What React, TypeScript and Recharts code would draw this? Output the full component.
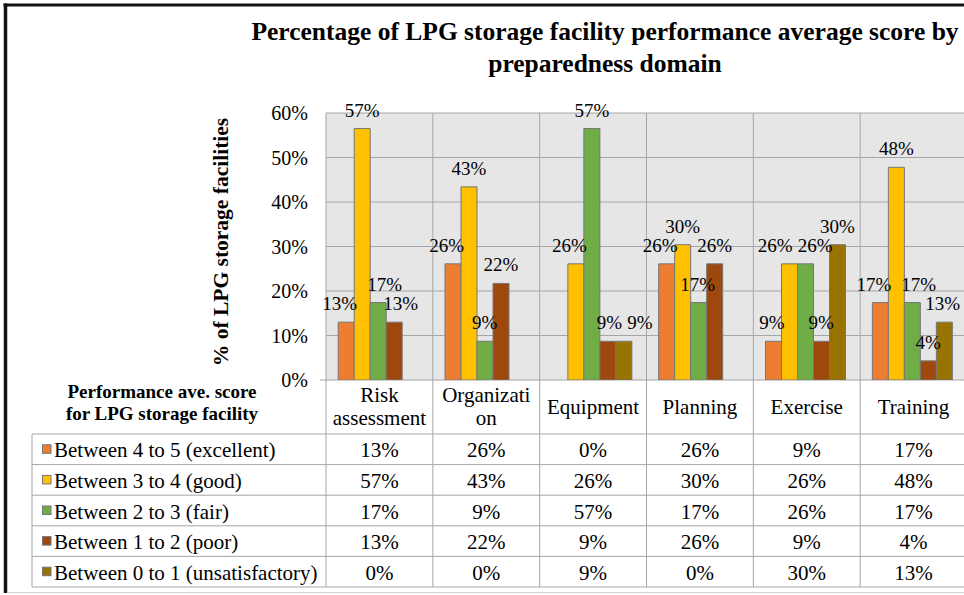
import React from 'react';
import { BarChart, Bar, XAxis, YAxis, CartesianGrid, LabelList } from 'recharts';

const CATEGORIES = ['Risk assessment', 'Organization', 'Equipment', 'Planning', 'Exercise', 'Training'];
const CATEGORY_LINES = [['Risk', 'assessment'], ['Organizati', 'on'], ['Equipment'], ['Planning'], ['Exercise'], ['Training']];
const SERIES_NAMES = [
  'Between 4 to 5 (excellent)',
  'Between 3 to 4 (good)',
  'Between 2 to 3 (fair)',
  'Between 1 to 2 (poor)',
  'Between 0 to 1 (unsatisfactory)',
];
const EXCELLENT = [13.0, 26.1, 0, 26.1, 8.7, 17.4];
const GOOD = [56.5, 43.4, 26.1, 30.4, 26.1, 47.8];
const FAIR = [17.4, 8.7, 56.5, 17.4, 26.1, 17.4];
const POOR = [13.0, 21.7, 8.7, 26.1, 8.7, 4.3];
const UNSATISFACTORY = [0, 0, 8.7, 0, 30.4, 13.0];
const Y_TICKS = [0, 10, 20, 30, 40, 50, 60];

const SERIES_VALUES = [EXCELLENT, GOOD, FAIR, POOR, UNSATISFACTORY];
const COLORS = ['#ED7D31', '#FFC000', '#70AD47', '#9E480E', '#997300'];
const KEYS = ['s0', 's1', 's2', 's3', 's4'];

const data = CATEGORIES.map((name, i) => {
  const row: any = { name };
  KEYS.forEach((k, s) => (row[k] = SERIES_VALUES[s][i]));
  return row;
});

const FONT = '"Liberation Serif", "Times New Roman", Times, serif';
const GRID = '#a6a6a6';
const VIEW_W = 964;
const CHART_W = 1000;
const CHART_H = 595;
const M_LEFT = 266;
const Y_W = 60;
const M_RIGHT = 33;
const PLOT_TOP = 113;
const PLOT_BOTTOM = 380;
const PLOT_LEFT = M_LEFT + Y_W;
const PLOT_RIGHT = CHART_W - M_RIGHT;
const BAND = (PLOT_RIGHT - PLOT_LEFT) / CATEGORIES.length;
const ROW_TOP = 434;
const ROW_H = 30.6;
const TABLE_BOTTOM = ROW_TOP + ROW_H * SERIES_NAMES.length;
const TABLE_LEFT = 32;
const Y_MAX = 60;

const LABEL_FS = 19;
const LABEL_OFFSET = 12;
const CAP = 13;
const BAR_TOLERANCE = 3;
const LABEL_GAP = 5;

const fmt = (v: number) => `${Math.round(v)}%`;
const textW = (t: string) =>
  Array.from(t).reduce((a, c) => a + (c === '%' ? 0.833 : 0.5), 0) * LABEL_FS;
const yOf = (v: number) => PLOT_BOTTOM - (v / Y_MAX) * (PLOT_BOTTOM - PLOT_TOP);

// Nudges data labels sideways so they don't collide with each other or neighbouring bars
function layoutCategory(i: number, firstCenter: number, bw: number): number[] {
  const items = SERIES_VALUES.map((arr, s) => {
    const v = arr[i];
    return { s, v, bx: firstCenter + s * bw, cx: firstCenter + s * bw, w: textW(fmt(v)), top: yOf(v) };
  });
  const labels = items.filter((it) => it.v > 0);
  for (let iter = 0; iter < 80; iter++) {
    for (const lab of labels) {
      const lb = lab.top - LABEL_OFFSET;
      for (const bar of items) {
        if (bar.s === lab.s || bar.v <= 0) continue;
        if (bar.top >= lb) continue;
        const bl = bar.bx - bw / 2;
        const br = bar.bx + bw / 2;
        const ll = lab.cx - lab.w / 2;
        const lr = lab.cx + lab.w / 2;
        if (lab.cx < bar.bx) {
          const over = lr - bl - BAR_TOLERANCE;
          if (over > 0) lab.cx -= over * 0.3;
        } else {
          const over = br - ll - BAR_TOLERANCE;
          if (over > 0) lab.cx += over * 0.3;
        }
      }
    }
    for (let a = 0; a < labels.length; a++) {
      for (let b = a + 1; b < labels.length; b++) {
        const A = labels[a];
        const B = labels[b];
        if (Math.abs(A.top - B.top) >= CAP + 2) continue;
        const over = A.cx + A.w / 2 + LABEL_GAP - (B.cx - B.w / 2);
        if (over > 0) {
          A.cx -= over / 2;
          B.cx += over / 2;
        }
      }
    }
    for (const lab of labels) {
      const maxC = VIEW_W - 4 - lab.w / 2;
      if (lab.cx > maxC) lab.cx = maxC;
    }
  }
  return items.map((it) => it.cx - it.bx);
}

const makeLabel = (s: number) => (props: any) => {
  const vb = props.viewBox || {};
  const x = Number(props.x ?? vb.x);
  const y = Number(props.y ?? vb.y);
  const width = Number(props.width ?? vb.width);
  const value = Number(props.value);
  if (!(value > 0) || !isFinite(x)) return null;
  const center = x + width / 2;
  const index = Math.max(0, Math.min(CATEGORIES.length - 1, Math.floor((center - PLOT_LEFT) / BAND)));
  const shifts = layoutCategory(index, center - s * width, width);
  return (
    <text
      x={center + shifts[s]}
      y={y - LABEL_OFFSET}
      textAnchor="middle"
      fontSize={LABEL_FS}
      fill="#000"
      fontFamily={FONT}
    >
      {fmt(value)}
    </text>
  );
};

const CategoryTick = (props: any) => {
  const { x, payload } = props;
  const i = CATEGORIES.indexOf(payload.value);
  const lines = CATEGORY_LINES[i] || [String(payload.value)];
  const left = x - BAND / 2;
  const right = x + BAND / 2;
  return (
    <g>
      <line x1={left} x2={left} y1={PLOT_TOP} y2={TABLE_BOTTOM} stroke={GRID} strokeWidth={1} />
      {i === CATEGORIES.length - 1 && (
        <line x1={right} x2={right} y1={PLOT_TOP} y2={TABLE_BOTTOM} stroke={GRID} strokeWidth={1} />
      )}
      {lines.length === 2 ? (
        <>
          <text x={x} y={401.5} textAnchor="middle" fontSize={21} fill="#000" fontFamily={FONT}>{lines[0]}</text>
          <text x={x} y={425} textAnchor="middle" fontSize={21} fill="#000" fontFamily={FONT}>{lines[1]}</text>
        </>
      ) : (
        <text x={x} y={414} textAnchor="middle" fontSize={21} fill="#000" fontFamily={FONT}>{lines[0]}</text>
      )}
      {SERIES_VALUES.map((vals, r) => (
        <text
          key={r}
          x={x}
          y={ROW_TOP + r * ROW_H + ROW_H / 2 + 8}
          textAnchor="middle"
          fontSize={21}
          fill="#000"
          fontFamily={FONT}
        >
          {fmt(vals[i])}
        </text>
      ))}
    </g>
  );
};

export default function App() {
  return (
    <div
      style={{
        position: 'absolute',
        left: 0,
        top: 0,
        width: VIEW_W,
        height: 595,
        overflow: 'hidden',
        background: '#fff',
        fontFamily: FONT,
      }}
    >
      <BarChart
        width={CHART_W}
        height={CHART_H}
        data={data}
        margin={{ top: PLOT_TOP, right: M_RIGHT, bottom: 8, left: M_LEFT }}
        barCategoryGap="11.4%"
        barGap={0}
      >
        <CartesianGrid vertical={false} stroke={GRID} fill="#e6e6e6" fillOpacity={1} />
        <XAxis
          dataKey="name"
          interval={0}
          axisLine={false}
          tickLine={false}
          height={CHART_H - 8 - PLOT_BOTTOM}
          tick={(p: any) => <CategoryTick {...p} />}
        />
        <YAxis
          width={Y_W}
          domain={[0, Y_MAX]}
          ticks={Y_TICKS}
          interval={0}
          allowDataOverflow
          axisLine={false}
          tickLine={false}
          tickSize={0}
          tickMargin={18}
          tickFormatter={(v: number) => `${v}%`}
          tick={{ fill: '#000', fontSize: 20, fontFamily: FONT }}
        />
        {KEYS.map((k, s) => (
          <Bar key={k} dataKey={k} fill={COLORS[s]} stroke="#767676" strokeWidth={1} isAnimationActive={false}>
            <LabelList dataKey={k} content={makeLabel(s)} />
          </Bar>
        ))}
      </BarChart>
      <svg
        width={VIEW_W}
        height={595}
        style={{ position: 'absolute', left: 0, top: 0, pointerEvents: 'none' }}
        fontFamily={FONT}
      >
        <line x1={3.5} x2={VIEW_W} y1={5} y2={5} stroke="#111" strokeWidth={3} />
        <line x1={5.5} x2={5.5} y1={3.5} y2={593} stroke="#111" strokeWidth={3.5} />
        <line x1={7} x2={VIEW_W} y1={592.5} y2={592.5} stroke="#d0d0d0" strokeWidth={1} />
        <text x={605} y={40} textAnchor="middle" fontSize={25.5} fontWeight="bold" fill="#000">
          Percentage of LPG storage facility performance average score by
        </text>
        <text x={605} y={72} textAnchor="middle" fontSize={25.5} fontWeight="bold" fill="#000">
          preparedness domain
        </text>
        <text
          x={228}
          y={242}
          transform="rotate(-90 228 242)"
          textAnchor="middle"
          fontSize={21.5}
          fontWeight="bold"
          fill="#000"
        >
          % of LPG storage facilities
        </text>
        <line x1={320} x2={PLOT_LEFT} y1={PLOT_BOTTOM} y2={PLOT_BOTTOM} stroke={GRID} />
        <text x={162} y={398} textAnchor="middle" fontSize={19} fontWeight="bold" fill="#000">
          Performance ave. score
        </text>
        <text x={162} y={420} textAnchor="middle" fontSize={19} fontWeight="bold" fill="#000">
          for LPG storage facility
        </text>
        {[0, 1, 2, 3, 4, 5].map((r) => (
          <line
            key={r}
            x1={TABLE_LEFT}
            x2={VIEW_W}
            y1={ROW_TOP + r * ROW_H}
            y2={ROW_TOP + r * ROW_H}
            stroke={GRID}
            strokeWidth={1}
          />
        ))}
        <line x1={TABLE_LEFT} x2={TABLE_LEFT} y1={ROW_TOP} y2={TABLE_BOTTOM} stroke={GRID} />
        {SERIES_NAMES.map((name, r) => {
          const cy = ROW_TOP + r * ROW_H + ROW_H / 2;
          return (
            <g key={name}>
              <rect x={42.5} y={cy - 4.5} width={8.5} height={8.5} fill={COLORS[r]} stroke="#767676" strokeWidth={1} />
              <text x={54} y={cy + 8} fontSize={21} fill="#000">
                {name}
              </text>
            </g>
          );
        })}
      </svg>
    </div>
  );
}
